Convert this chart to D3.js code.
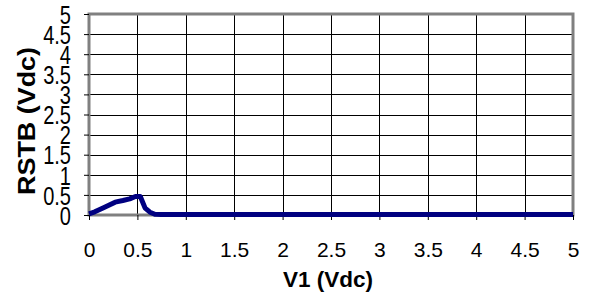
<!DOCTYPE html>
<html><head><meta charset="utf-8">
<script src="https://cdn.jsdelivr.net/npm/d3@7"></script>
<style>body{margin:0;background:#fff}svg{display:block}</style>
</head><body>
<svg id="c" width="590" height="306"></svg>
<script>
const v1 = [0, 0.06, 0.15, 0.27, 0.35, 0.42, 0.48, 0.53, 0.58, 0.63, 0.68, 0.75, 1, 2, 3, 4, 5];
const rstb = [0.03, 0.08, 0.18, 0.32, 0.36, 0.4, 0.46, 0.46, 0.17, 0.07, 0.02, 0.01, 0.01, 0.01, 0.01, 0.01, 0.01];
const xTicks = [0, 0.5, 1, 1.5, 2, 2.5, 3, 3.5, 4, 4.5, 5];
const yTicks = [0, 0.5, 1, 1.5, 2, 2.5, 3, 3.5, 4, 4.5, 5];

const svg = d3.select('#c');
const L = 89, R = 573, T = 14, B = 215;
const x = d3.scaleLinear().domain([0, 5]).range([L, R]);
const y = d3.scaleLinear().domain([0, 5]).range([B, T]);
const font = 'Liberation Sans, Arial, sans-serif';

// gridlines
svg.append('g').selectAll('line').data(yTicks).join('line')
  .attr('x1', L).attr('x2', R).attr('y1', d => Math.round(y(d)) + 0.5).attr('y2', d => Math.round(y(d)) + 0.5)
  .attr('stroke', '#000').attr('stroke-width', 1);
svg.append('g').selectAll('line').data(xTicks).join('line')
  .attr('y1', T).attr('y2', B).attr('x1', d => Math.round(x(d)) + 0.5).attr('x2', d => Math.round(x(d)) + 0.5)
  .attr('stroke', '#000').attr('stroke-width', 1);

// frame
svg.append('rect').attr('x', L).attr('y', T).attr('width', R - L).attr('height', B - T)
  .attr('fill', 'none').attr('stroke', '#808080').attr('stroke-width', 3);

// axes
const xAxis = d3.axisBottom(x).tickValues(xTicks).tickSize(5).tickPadding(22).tickFormat(d3.format('~g'));
const gx = svg.append('g').attr('transform', `translate(0,${B})`).call(xAxis);
gx.select('.domain').remove();
gx.selectAll('.tick line').attr('stroke', '#000');
gx.selectAll('text').attr('font-family', font).attr('font-size', 21).attr('fill', '#000');

const yAxis = d3.axisLeft(y).tickValues(yTicks).tickSize(5).tickPadding(13).tickFormat(d3.format('~g'));
const gy = svg.append('g').attr('transform', `translate(${L},0)`).call(yAxis);
gy.select('.domain').remove();
gy.selectAll('.tick line').attr('stroke', '#000');
gy.selectAll('text').attr('font-family', font).attr('font-size', 20).attr('fill', '#000')
  .attr('dy', '0.36em').attr('transform', 'scale(1,1.28)');

// data line
const data = v1.map((d, i) => [d, rstb[i]]);
svg.append('path').datum(data)
  .attr('d', d3.line().x(d => x(d[0])).y(d => y(d[1])))
  .attr('fill', 'none').attr('stroke', '#000080').attr('stroke-width', 5).attr('stroke-linejoin', 'round');

// titles
svg.append('text').attr('x', 328).attr('y', 287).attr('text-anchor', 'middle')
  .attr('font-family', font).attr('font-weight', 'bold').attr('font-size', 22)
  .attr('textLength', 90).attr('lengthAdjust', 'spacingAndGlyphs').text('V1 (Vdc)');
svg.append('text').attr('transform', `translate(35,121) rotate(-90)`).attr('text-anchor', 'middle')
  .attr('font-family', font).attr('font-weight', 'bold').attr('font-size', 23)
  .attr('textLength', 148).attr('lengthAdjust', 'spacingAndGlyphs').text('RSTB (Vdc)');
</script>
</body></html>
